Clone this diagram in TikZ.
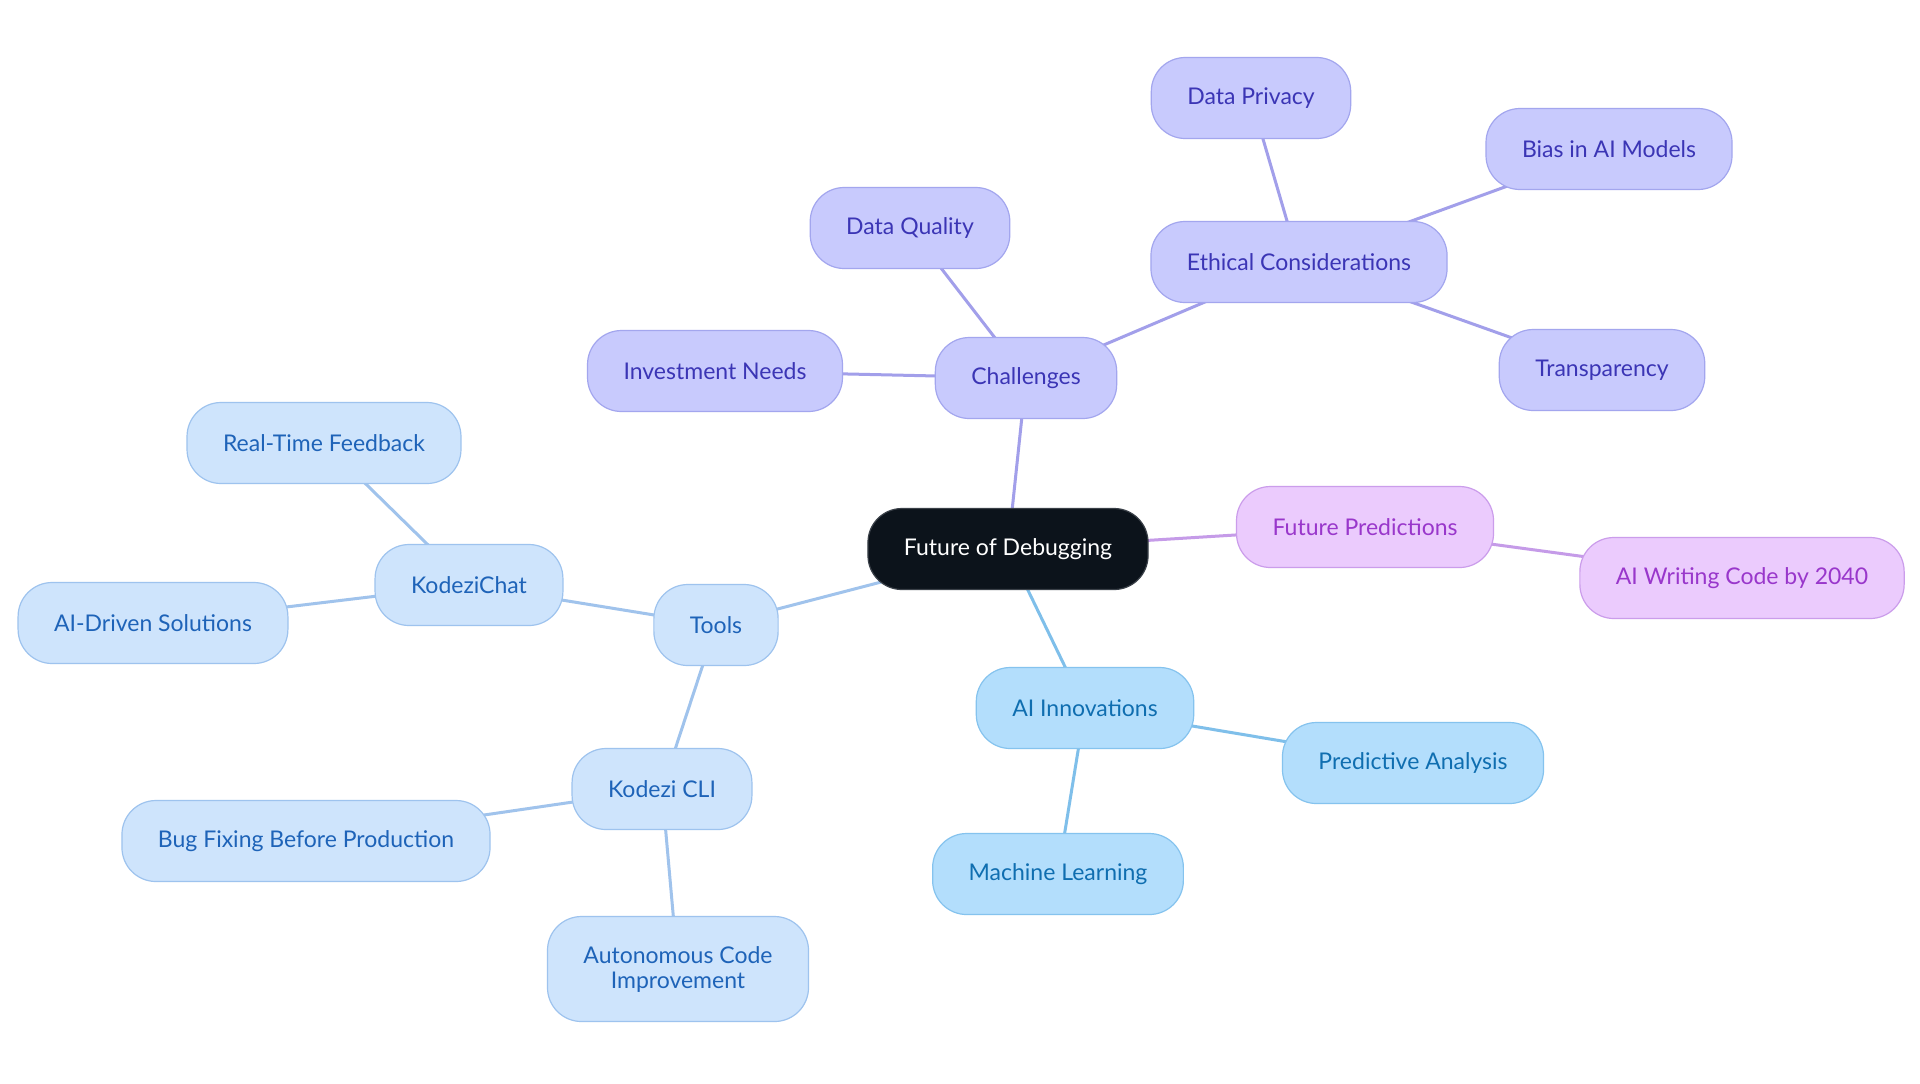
\documentclass[tikz,border=0pt]{standalone}
\usepackage{fontspec}
\setmainfont{Lato}
\usepackage{xcolor}
\usetikzlibrary{positioning,backgrounds}

\definecolor{hubfill}{HTML}{0C131B}
\definecolor{hubdraw}{HTML}{3A4048}
\definecolor{chalfill}{HTML}{C8CAFD}
\definecolor{chaldraw}{HTML}{A3A6EE}
\definecolor{chaltext}{HTML}{3B35B5}
\definecolor{challine}{HTML}{A29FEA}
\definecolor{predfill}{HTML}{EBCBFD}
\definecolor{preddraw}{HTML}{CB9DEB}
\definecolor{predtext}{HTML}{9937CB}
\definecolor{predline}{HTML}{C59BE8}
\definecolor{innofill}{HTML}{B3DEFC}
\definecolor{innodraw}{HTML}{85C3EE}
\definecolor{innotext}{HTML}{0F6EB0}
\definecolor{innoline}{HTML}{7FBFEA}
\definecolor{toolfill}{HTML}{CEE4FC}
\definecolor{tooldraw}{HTML}{9EC3EE}
\definecolor{tooltext}{HTML}{1E63B8}
\definecolor{toolline}{HTML}{A0C3EC}

\begin{document}
\begin{tikzpicture}[
    x=0.5pt, y=-0.5pt,
    topic/.style={rectangle, rounded corners=17pt, draw, line width=0.6pt, minimum height=40.5pt, inner xsep=18pt, align=center, font=\fontsize{11.5}{12.5}\selectfont},
    hub/.style={topic, fill=hubfill, draw=hubdraw, text=white},
    chal/.style={topic, fill=chalfill, draw=chaldraw, text=chaltext},
    pred/.style={topic, fill=predfill, draw=preddraw, text=predtext},
    inno/.style={topic, fill=innofill, draw=innodraw, text=innotext},
    tool/.style={topic, fill=toolfill, draw=tooldraw, text=tooltext},
    link/.style={line width=1.5pt},
]
\useasboundingbox (0,0) rectangle (1920,1083);

% Central topic
\node[hub] (debug) at (1008,549) {Future of Debugging};

% Challenges branch
\node[chal] (challenges) at (1026,378) {Challenges};
\node[chal] (investment) at (715,371) {Investment Needs};
\node[chal] (quality) at (910,228) {Data Quality};
\node[chal] (ethics) at (1299,262) {Ethical Considerations};
\node[chal] (privacy) at (1251,98) {Data Privacy};
\node[chal] (bias) at (1609,149) {Bias in AI Models};
\node[chal] (transparency) at (1602,370) {Transparency};

% Future predictions branch
\node[pred] (predictions) at (1365,527) {Future Predictions};
\node[pred] (aiwriting) at (1742,578) {AI Writing Code by 2040};

% AI innovations branch
\node[inno] (innovations) at (1085,708) {AI Innovations};
\node[inno] (predictive) at (1413,763) {Predictive Analysis};
\node[inno] (learning) at (1058,874) {Machine Learning};

% Tools branch
\node[tool] (tools) at (716,625) {Tools};
\node[tool] (chat) at (469,585) {KodeziChat};
\node[tool] (feedback) at (324,443) {Real-Time Feedback};
\node[tool] (solutions) at (153,623) {AI-Driven Solutions};
\node[tool] (cli) at (662,789) {Kodezi CLI};
\node[tool] (bugfix) at (306,841) {Bug Fixing Before Production};
\node[tool, minimum height=52.5pt] (autonomous) at (678,969) {Autonomous Code\\Improvement};

% Connectors behind the nodes
\begin{scope}[on background layer]
\fill[white] (0,0) rectangle (1920,1083);
\draw[link, challine] (debug.center) -- (challenges.center);
\draw[link, challine] (challenges.center) -- (investment.center);
\draw[link, challine] (challenges.center) -- (quality.center);
\draw[link, challine] (challenges.center) -- (ethics.center);
\draw[link, challine] (ethics.center) -- (privacy.center);
\draw[link, challine] (ethics.center) -- (bias.center);
\draw[link, challine] (ethics.center) -- (transparency.center);
\draw[link, predline] (debug.center) -- (predictions.center);
\draw[link, predline] (predictions.center) -- (aiwriting.center);
\draw[link, innoline] (debug.center) -- (innovations.center);
\draw[link, innoline] (innovations.center) -- (predictive.center);
\draw[link, innoline] (innovations.center) -- (learning.center);
\draw[link, toolline] (debug.center) -- (tools.center);
\draw[link, toolline] (tools.center) -- (chat.center);
\draw[link, toolline] (chat.center) -- (feedback.center);
\draw[link, toolline] (chat.center) -- (solutions.center);
\draw[link, toolline] (tools.center) -- (cli.center);
\draw[link, toolline] (cli.center) -- (bugfix.center);
\draw[link, toolline] (cli.center) -- (autonomous.center);
\end{scope}

\end{tikzpicture}
\end{document}
